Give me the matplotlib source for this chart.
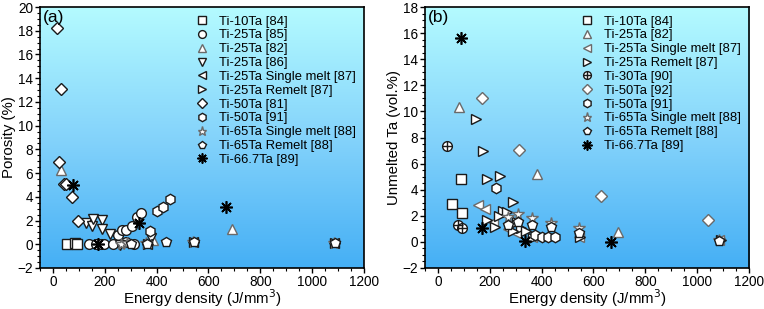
import matplotlib
matplotlib.use("Agg")
import matplotlib.pyplot as plt
import numpy as np
from matplotlib.colors import LinearSegmentedColormap
from matplotlib.ticker import MultipleLocator

plt.rcParams["font.family"] = ["Liberation Sans", "DejaVu Sans"]

# ---- panel (a): porosity (%) vs energy density (J/mm3)
a_ti10_84_x = [55, 85, 94]
a_ti10_84_y = [0.0, 0.1, 0.0]
a_ti25_85_x = [140, 166, 184, 197, 230, 250, 266, 283, 282, 304, 312, 323, 340]
a_ti25_85_y = [0.0, 0.0, 0.05, 0.0, 0.0, 0.76, 1.2, 1.2, 0.2, 1.53, 0.0, 2.32, 2.6]
a_ti25_82_x = [30, 385, 692]
a_ti25_82_y = [6.3, 0.4, 1.3]
a_ti25_86_x = [126, 152, 156, 190, 190, 220, 259, 380]
a_ti25_86_y = [1.8, 1.5, 2.1, 2.04, 1.28, 0.85, -0.1, 0.55]
a_single87_x = [362, 540, 1085]
a_single87_y = [0.0, 0.2, 0.1]
a_remelt87_x = [365, 545, 1090]
a_remelt87_y = [0.05, 0.2, 0.1]
a_ti50_81_x = [17, 31, 23, 42, 50, 72, 95]
a_ti50_81_y = [18.2, 13.1, 6.9, 5.05, 5.05, 3.95, 1.98]
a_ti50_91_x = [374, 400, 426, 451]
a_ti50_91_y = [1.11, 2.8, 3.16, 3.81]
a_single88_x = [262, 285, 360, 540, 1085]
a_single88_y = [0.0, 0.1, 0.1, 0.2, 0.1]
a_remelt88_x = [300, 362, 435, 544, 1087]
a_remelt88_y = [0.0, 0.05, 0.17, 0.15, 0.1]
a_ti667_89_x = [78, 172, 333, 669]
a_ti667_89_y = [5.0, 0.0, 1.76, 3.15]

# ---- panel (b): unmelted Ta (vol.%) vs energy density
b_ti10_84_x = [55, 87, 94]
b_ti10_84_y = [2.94, 4.8, 2.25]
b_ti25_82_x = [80, 381, 693]
b_ti25_82_y = [10.3, 5.2, 0.75]
b_single87_x = [156, 181, 214, 270, 300, 362, 545, 1085]
b_single87_y = [2.8, 2.5, 1.5, 1.0, 0.7, 0.4, 0.4, 0.15]
b_remelt87_x = [146, 175, 190, 239, 288, 252, 267, 188, 220, 234, 305, 320, 340, 290, 365, 548, 1090]
b_remelt87_y = [9.4, 7.0, 4.8, 5.05, 3.06, 2.4, 2.3, 1.66, 1.15, 2.0, 1.5, 1.1, 0.8, 0.8, 0.3, 0.4, 0.15]
b_ti30_90_x = [33, 78, 91]
b_ti30_90_y = [7.34, 1.28, 1.03]
b_ti50_92_x = [169, 314, 629, 1042]
b_ti50_92_y = [11.0, 7.08, 3.55, 1.7]
b_ti50_91_x = [223, 374, 400, 425, 451]
b_ti50_91_y = [4.1, 0.52, 0.38, 0.36, 0.34]
b_single88_x = [270, 310, 361, 435, 545, 1085]
b_single88_y = [1.9, 2.1, 1.85, 1.45, 1.05, 0.15]
b_remelt88_x = [270, 310, 361, 435, 545, 1085]
b_remelt88_y = [1.3, 1.5, 1.3, 1.15, 0.7, 0.1]
b_ti667_89_x = [87, 168, 336, 669]
b_ti667_89_y = [15.6, 1.1, 0.1, 0.0]

DARK = "#1a1a1a"
GRAY = "#6a6a6a"
ASTER = (8, 2, 0)

series_a = [
    ("Ti-10Ta [84]", a_ti10_84_x, a_ti10_84_y, "s", DARK, 6.5),
    ("Ti-25Ta [85]", a_ti25_85_x, a_ti25_85_y, "o", DARK, 7),
    ("Ti-25Ta [82]", a_ti25_82_x, a_ti25_82_y, "^", GRAY, 7.5),
    ("Ti-25Ta [86]", a_ti25_86_x, a_ti25_86_y, "v", DARK, 7.5),
    ("Ti-25Ta Single melt [87]", a_single87_x, a_single87_y, "<", DARK, 7.5),
    ("Ti-25Ta Remelt [87]", a_remelt87_x, a_remelt87_y, ">", DARK, 7.5),
    ("Ti-50Ta [81]", a_ti50_81_x, a_ti50_81_y, "D", DARK, 6.5),
    ("Ti-50Ta [91]", a_ti50_91_x, a_ti50_91_y, "h", DARK, 7.5),
    ("Ti-65Ta Single melt [88]", a_single88_x, a_single88_y, "*", GRAY, 8.5),
    ("Ti-65Ta Remelt [88]", a_remelt88_x, a_remelt88_y, "p", DARK, 7.5),
    ("Ti-66.7Ta [89]", a_ti667_89_x, a_ti667_89_y, ASTER, "black", 9),
]

series_b = [
    ("Ti-10Ta [84]", b_ti10_84_x, b_ti10_84_y, "s", DARK, 6.5),
    ("Ti-25Ta [82]", b_ti25_82_x, b_ti25_82_y, "^", GRAY, 7.5),
    ("Ti-25Ta Single melt [87]", b_single87_x, b_single87_y, "<", GRAY, 7.5),
    ("Ti-25Ta Remelt [87]", b_remelt87_x, b_remelt87_y, ">", DARK, 7.5),
    ("Ti-30Ta [90]", b_ti30_90_x, b_ti30_90_y, "cross", DARK, 7),
    ("Ti-50Ta [92]", b_ti50_92_x, b_ti50_92_y, "D", GRAY, 6.5),
    ("Ti-50Ta [91]", b_ti50_91_x, b_ti50_91_y, "h", DARK, 7.5),
    ("Ti-65Ta Single melt [88]", b_single88_x, b_single88_y, "*", GRAY, 8.5),
    ("Ti-65Ta Remelt [88]", b_remelt88_x, b_remelt88_y, "p", DARK, 7.5),
    ("Ti-66.7Ta [89]", b_ti667_89_x, b_ti667_89_y, ASTER, "black", 9),
]

bg = LinearSegmentedColormap.from_list("bg", ["#45aff5", "#84d3fb", "#b4fbff"])


def draw(ax, series, ylim, ylabel, tag):
    grad = np.linspace(0, 1, 256).reshape(-1, 1)
    ax.imshow(grad, extent=[0, 1, 0, 1], transform=ax.transAxes, aspect="auto",
              cmap=bg, origin="lower", zorder=0)
    handles, labels = [], []
    for label, xs, ys, mk, ec, ms in series:
        if mk == "cross":
            h1, = ax.plot(xs, ys, ls="none", marker="o", ms=ms, mfc="white", mec=ec, mew=1.0, zorder=3)
            h2, = ax.plot(xs, ys, ls="none", marker="+", ms=ms, mec=ec, mew=1.0, zorder=4)
            h = (h1, h2)
        elif mk == ASTER:
            h, = ax.plot(xs, ys, ls="none", marker=mk, ms=ms, mec=ec, mfc=ec, mew=1.2, zorder=4)
        else:
            h, = ax.plot(xs, ys, ls="none", marker=mk, ms=ms, mfc="white", mec=ec, mew=1.0, zorder=3)
        handles.append(h)
        labels.append(label)
    ax.set_xlim(-50, 1200)
    ax.set_ylim(*ylim)
    ax.xaxis.set_major_locator(MultipleLocator(200))
    ax.xaxis.set_minor_locator(MultipleLocator(50))
    ax.yaxis.set_major_locator(MultipleLocator(2))
    ax.yaxis.set_minor_locator(MultipleLocator(0.5))
    ax.tick_params(which="both", direction="out", labelsize=9.8, top=False, right=False)
    ax.tick_params(which="major", length=3.5, width=1, pad=1.5)
    ax.tick_params(which="minor", length=2, width=0.8)
    for sp in ax.spines.values():
        sp.set_linewidth(1.2)
    ax.set_xlabel("Energy density (J/mm$^3$)", fontsize=10.8, labelpad=-1)
    ax.set_ylabel(ylabel, fontsize=10.8, labelpad=1)
    ax.text(0.01, 0.99, tag, transform=ax.transAxes, ha="left", va="top", fontsize=12.5, zorder=5)
    leg = ax.legend(handles, labels, loc="upper right", fontsize=9.4, frameon=True,
                    fancybox=False, framealpha=0, edgecolor="#7fa9c4", handlelength=1.0,
                    handletextpad=0.8, labelspacing=0.13, borderpad=0.35, borderaxespad=0.3,
                    markerscale=0.8)
    leg.get_frame().set_linewidth(0.9)


fig = plt.figure(figsize=(7.64, 3.09), dpi=100)
ax1 = fig.add_axes([0.0524, 0.1327, 0.4240, 0.8446])
ax2 = fig.add_axes([0.5563, 0.1327, 0.4241, 0.8446])
draw(ax1, series_a, (-2, 20), "Porosity (%)", "(a)")
draw(ax2, series_b, (-2, 18), "Unmelted Ta (vol.%)", "(b)")
fig.savefig("out.png", dpi=100)
